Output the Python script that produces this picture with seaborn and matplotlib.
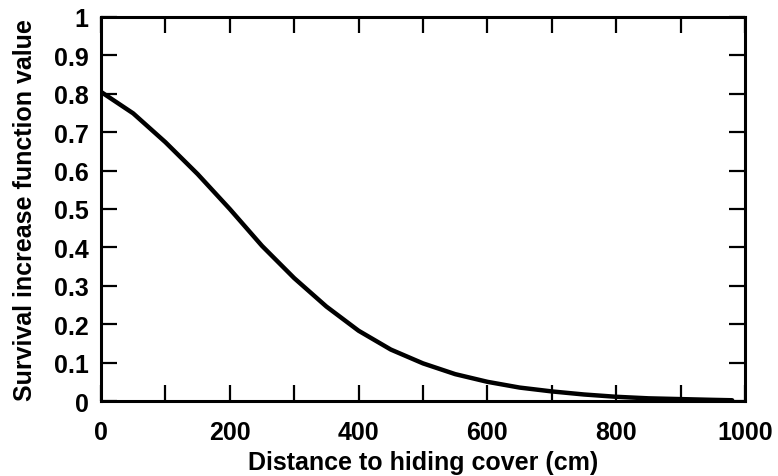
import numpy as np
import pandas as pd
import seaborn as sns
import matplotlib
matplotlib.use("Agg")
import matplotlib.pyplot as plt
from matplotlib.ticker import MultipleLocator

distance_cm = [0, 50, 100, 150, 200, 250, 300, 350, 400, 450, 500, 550, 600,
               650, 700, 750, 800, 850, 900, 950, 980]
survival_value = [0.805, 0.749, 0.674, 0.591, 0.500, 0.404, 0.320, 0.246, 0.183,
                  0.134, 0.098, 0.070, 0.050, 0.035, 0.025, 0.017, 0.011, 0.007,
                  0.005, 0.003, 0.002]

x_ticks = [0, 200, 400, 600, 800, 1000]
x_ticklabels = ["0", "200", "400", "600", "800", "1000"]
y_ticks = [0, 0.1, 0.2, 0.3, 0.4, 0.5, 0.6, 0.7, 0.8, 0.9, 1.0]
y_ticklabels = ["0", "0.1", "0.2", "0.3", "0.4", "0.5", "0.6", "0.7", "0.8", "0.9", "1"]

x_label = "Distance to hiding cover (cm)"
y_label = "Survival increase function value"

sns.set_style("ticks")
plt.rcParams['font.family'] = ['Liberation Sans', 'DejaVu Sans']
plt.rcParams['font.weight'] = 'bold'
plt.rcParams['text.color'] = 'black'
plt.rcParams['axes.labelcolor'] = 'black'
plt.rcParams['xtick.color'] = 'black'
plt.rcParams['ytick.color'] = 'black'

df = pd.DataFrame({"d": distance_cm, "s": survival_value})

fig = plt.figure(figsize=(7.78, 4.77), dpi=100)
ax = fig.add_axes([0.1298, 0.1572, 0.9576 - 0.1298, 0.9623 - 0.1572])
sns.lineplot(data=df, x="d", y="s", ax=ax, color="black", linewidth=3.2)

ax.set_xlim(0, 1000)
ax.set_ylim(0, 1)
ax.set_xticks(x_ticks)
ax.set_xticklabels(x_ticklabels)
ax.xaxis.set_minor_locator(MultipleLocator(100))
ax.set_yticks(y_ticks)
ax.set_yticklabels(y_ticklabels)

for s in ax.spines.values():
    s.set_visible(True)
    s.set_linewidth(2.2)
    s.set_color("black")

fs = 18
ax.tick_params(which="both", direction="in", top=True, right=True,
               length=11.5, width=1.6, color="black", labelcolor="black")
ax.tick_params(axis="x", which="major", labelsize=fs, pad=14)
ax.tick_params(axis="y", which="major", labelsize=fs, pad=9)
for lab in ax.get_xticklabels() + ax.get_yticklabels():
    lab.set_fontweight("bold")

ax.set_xlabel(x_label, fontsize=fs, fontweight="bold", labelpad=4, color="black")
ax.set_ylabel(y_label, fontsize=fs, fontweight="bold", labelpad=12, color="black")

fig.savefig("out.png", dpi=100)
